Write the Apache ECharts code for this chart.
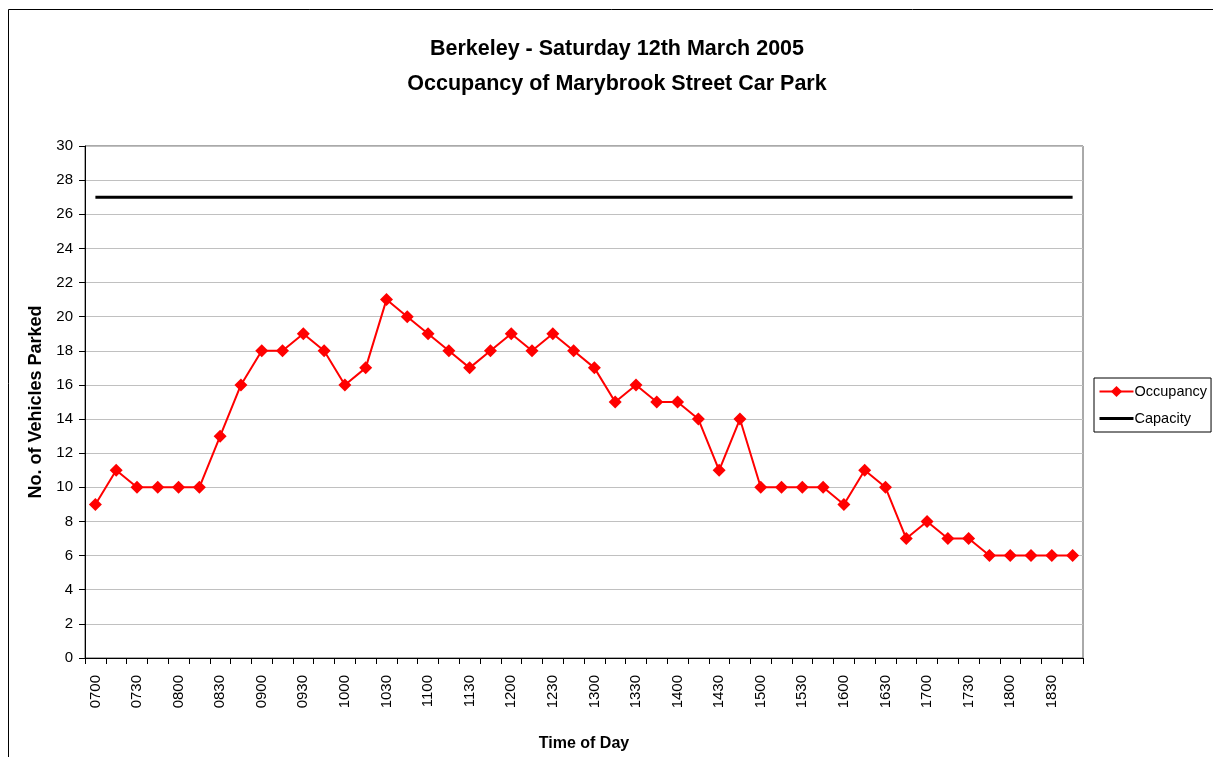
<!DOCTYPE html>
<html>
<head>
<meta charset="utf-8">
<script src="https://cdn.jsdelivr.net/npm/echarts@6/dist/echarts.min.js"></script>
<style>
html,body{margin:0;padding:0;background:#fff;}
#chart{width:1213px;height:757px;}
</style>
</head>
<body>
<div id="chart"></div>
<script>
const times = ["0700","0715","0730","0745","0800","0815","0830","0845","0900","0915","0930","0945",
  "1000","1015","1030","1045","1100","1115","1130","1145","1200","1215","1230","1245",
  "1300","1315","1330","1345","1400","1415","1430","1445","1500","1515","1530","1545",
  "1600","1615","1630","1645","1700","1715","1730","1745","1800","1815","1830","1845"];
const occupancy = [9,11,10,10,10,10,13,16,18,18,19,18,
  16,17,21,20,19,18,17,18,19,18,19,18,
  17,15,16,15,15,14,11,14,10,10,10,10,
  9,11,10,7,8,7,7,6,6,6,6,6];
const capacityValue = 27;
const capacity = times.map(() => capacityValue);

const FONT = '"Liberation Sans", Arial, sans-serif';
const chart = echarts.init(document.getElementById('chart'));
chart.setOption({
  animation: false,
  backgroundColor: '#fff',
  textStyle: {fontFamily: FONT},
  graphic: [{
    type: 'rect', silent: true,
    shape: {x: 8.5, y: 9.5, width: 1400, height: 900},
    style: {fill: 'none', stroke: '#000', lineWidth: 1}
  }],
  title: {
    text: 'Berkeley - Saturday 12th March 2005\nOccupancy of Marybrook Street Car Park',
    left: 612, top: 27, textAlign: 'center',
    textStyle: {fontFamily: FONT, fontSize: 21.5, fontWeight: 'bold', color: '#000', lineHeight: 35}
  },
  legend: {
    orient: 'vertical',
    left: 1094, top: 378,
    width: 117,
    padding: [6, 4, 6, 4],
    itemGap: 12,
    itemWidth: 34, itemHeight: 14,
    borderColor: '#000', borderWidth: 1,
    textStyle: {fontFamily: FONT, fontSize: 14.5, color: '#000', padding: [0,0,0,-4]},
    data: [
      {name: 'Occupancy', lineStyle: {width: 2}},
      {name: 'Capacity', itemStyle: {opacity: 0}, lineStyle: {width: 3}}
    ]
  },
  grid: {
    left: 85, top: 146, right: 130, bottom: 96,
    show: true, borderColor: '#555555', borderWidth: 1, containLabel: false
  },
  xAxis: {
    type: 'category',
    data: times,
    boundaryGap: true,
    name: 'Time of Day',
    nameLocation: 'middle',
    nameGap: 78,
    nameTextStyle: {fontFamily: FONT, fontSize: 16, fontWeight: 'bold', color: '#000'},
    axisLine: {lineStyle: {color: '#000', width: 1}},
    axisTick: {show: true, interval: 0, length: 6, lineStyle: {color: '#000'}},
    axisLabel: {interval: 1, rotate: 90, fontFamily: FONT, fontSize: 15, color: '#000', margin: 17},
    splitLine: {show: false}
  },
  yAxis: {
    type: 'value',
    min: 0, max: 30, interval: 2,
    name: 'No. of Vehicles Parked',
    nameLocation: 'middle',
    nameGap: 40,
    nameTextStyle: {fontFamily: FONT, fontSize: 18, fontWeight: 'bold', color: '#000'},
    axisLine: {show: true, lineStyle: {color: '#000', width: 1}},
    axisTick: {show: true, length: 6, inside: false, lineStyle: {color: '#000'}},
    axisLabel: {fontFamily: FONT, fontSize: 15, color: '#000', margin: 12},
    splitLine: {show: true, lineStyle: {color: '#c0c0c0', width: 1}}
  },
  series: [
    {
      name: 'Occupancy', type: 'line', data: occupancy,
      symbol: 'diamond', symbolSize: 13,
      lineStyle: {color: '#ff0000', width: 2},
      itemStyle: {color: '#ff0000'},
      z: 3
    },
    {
      name: 'Capacity', type: 'line', data: capacity,
      symbol: 'none',
      lineStyle: {color: '#000', width: 3},
      itemStyle: {color: '#000'},
      z: 2
    }
  ]
});
</script>
</body>
</html>
